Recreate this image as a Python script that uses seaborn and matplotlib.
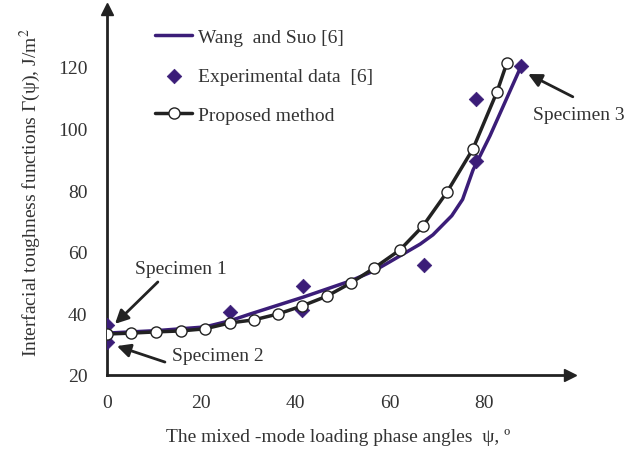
import matplotlib
matplotlib.use("Agg")
import matplotlib.pyplot as plt
import seaborn as sns
import pandas as pd

# ── Data ──────────────────────────────────────────────────────────────────────
wang_x = [0, 10.5, 20.8, 26.1, 30.4, 41.7, 51.6, 56.7, 60.0, 66.5, 69.2, 73.2, 75.5, 77.7, 81.3, 87.7]
wang_y = [33.6, 34.4, 35.6, 37.6, 39.8, 45.3, 50.5, 53.8, 56.7, 62.5, 65.5, 71.7, 77.0, 86.5, 97.6, 119.5]

exp_x = [0, 0, 26.1, 41.7, 41.3, 67.2, 78.3, 78.3, 87.9]
exp_y = [36.2, 30.7, 40.4, 49.0, 41.1, 55.7, 89.6, 109.5, 120.3]

prop_x = [0, 5.2, 10.5, 15.7, 20.8, 26.1, 31.2, 36.3, 41.4, 46.7, 51.8, 56.7,
          62.2, 67.1, 72.2, 77.7, 82.8, 84.9]
prop_y = [33.3, 33.6, 34.0, 34.3, 35.0, 36.9, 37.9, 39.8, 42.4, 45.6, 49.9, 54.7,
          60.6, 68.4, 79.4, 93.4, 111.9, 121.3]

x_ticks = [0, 20, 40, 60, 80]
y_ticks = [20, 40, 60, 80, 100, 120]

PURPLE = "#3b1d78"
DARK = "#222222"
TXT = "#333333"

sns.set_theme(style="white")
plt.rcParams["font.family"] = ["Liberation Serif", "DejaVu Serif"]
plt.rcParams["mathtext.fontset"] = "stix"

fig = plt.figure(figsize=(6.31, 4.52), dpi=100)
ax = fig.add_axes([107 / 631, 1 - 376 / 452, (570 - 107) / 631, (376 - 10) / 452])

wang = pd.DataFrame({"x": wang_x, "y": wang_y})
exp = pd.DataFrame({"x": exp_x, "y": exp_y})
prop = pd.DataFrame({"x": prop_x, "y": prop_y})

sns.lineplot(data=wang, x="x", y="y", sort=False, estimator=None, ax=ax,
             color=PURPLE, linewidth=2.5, label="Wang  and Suo [6]")
sns.scatterplot(data=exp, x="x", y="y", ax=ax, marker="D", s=55,
                color=PURPLE, edgecolor=PURPLE, linewidth=0.5,
                label="Experimental data  [6]", zorder=3)
sns.lineplot(data=prop, x="x", y="y", sort=False, estimator=None, ax=ax,
             color=DARK, linewidth=2.5, marker="o", markersize=8,
             markerfacecolor="white", markeredgecolor=DARK, markeredgewidth=1.0,
             label="Proposed method", zorder=4)

ax.set_xlim(0, 98.3)
ax.set_ylim(20, 138.8)
ax.set_xticks(x_ticks)
ax.set_yticks(y_ticks)
ax.tick_params(direction="in", length=5, width=2, color=DARK,
               labelsize=14, colors=TXT)
ax.tick_params(axis="x", pad=14)
ax.tick_params(axis="y", pad=14)
for s in ["top", "right"]:
    ax.spines[s].set_visible(False)
for s in ["left", "bottom"]:
    ax.spines[s].set_linewidth(2)
    ax.spines[s].set_color(DARK)

# axis arrowheads
ax.plot(1, 0, ">", transform=ax.transAxes, color=DARK, markersize=8, clip_on=False)
ax.plot(0, 1, "^", transform=ax.transAxes, color=DARK, markersize=8, clip_on=False)

ax.set_xlabel("The mixed -mode loading phase angles  ψ, º", fontsize=14,
              color=TXT, labelpad=12)
ax.set_ylabel("Interfacial toughness functions Γ(ψ), J/m$^2$", fontsize=14,
              color=TXT, labelpad=11)

leg = ax.legend(loc="upper left", bbox_to_anchor=(0.083, 0.973), frameon=False,
                fontsize=14, handlelength=1.9, handletextpad=0.3,
                labelspacing=1.1, borderpad=0)
for t in leg.get_texts():
    t.set_color(TXT)

arrow = dict(arrowstyle="-|>", color=DARK, lw=2, mutation_scale=20, shrinkA=0, shrinkB=0)
ax.annotate("", xy=(1.7, 36.6), xytext=(10.8, 50.2), arrowprops=arrow)
ax.text(5.9, 54.6, "Specimen 1", fontsize=14, color=TXT, ha="left", va="center")
ax.annotate("", xy=(2.1, 29.4), xytext=(12.3, 24.2), arrowprops=arrow)
ax.text(13.8, 26.2, "Specimen 2", fontsize=14, color=TXT, ha="left", va="center")
ax.annotate("", xy=(89.4, 117.7), xytext=(98.9, 110.3), arrowprops=arrow,
            annotation_clip=False)
ax.text(90.5, 104.7, "Specimen 3", fontsize=14, color=TXT, ha="left", va="center")

fig.savefig("out.png", dpi=100)
